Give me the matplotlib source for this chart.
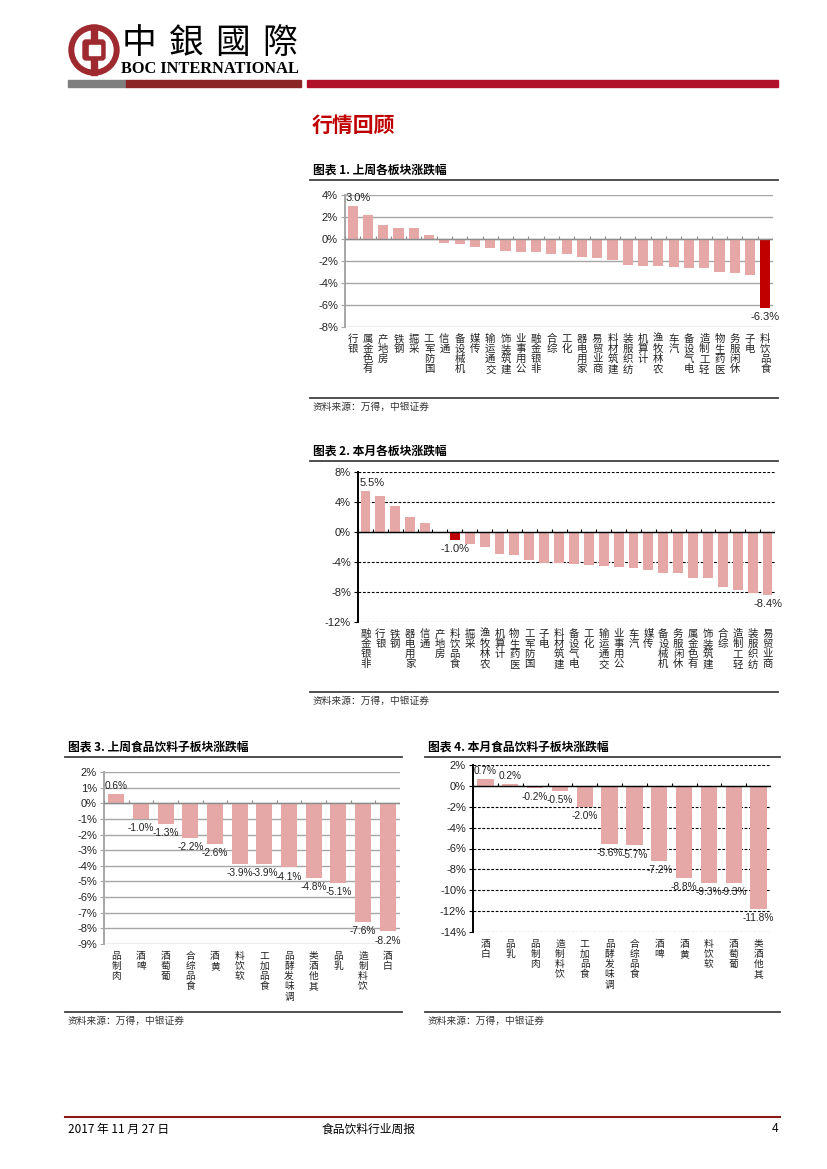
import numpy as np
import matplotlib.pyplot as plt
from matplotlib.patches import Circle, Rectangle, FancyBboxPatch

W, H = 827, 1169
CJK = ['Noto Sans CJK SC', 'DejaVu Sans']
NUM = ['Liberation Sans', 'Noto Sans CJK SC', 'DejaVu Sans']
PINK = '#E6A7A7'
RED = '#C00000'

# chart 1: last week, sectors
week_names = ['银行', '有色金属', '房地产', '钢铁', '采掘', '国防军工', '通信', '机械设备',
              '传媒', '交通运输', '建筑装饰', '公用事业', '非银金融', '综合', '化工', '家用电器',
              '商业贸易', '建筑材料', '纺织服装', '计算机', '农林牧渔', '汽车', '电气设备',
              '轻工制造', '医药生物', '休闲服务', '电子', '食品饮料']
week_vals = [3.0, 2.2, 1.3, 1.0, 1.0, 0.4, -0.4, -0.5, -0.7, -0.85, -1.1, -1.15, -1.2, -1.35,
             -1.4, -1.65, -1.7, -1.95, -2.4, -2.45, -2.5, -2.55, -2.6, -2.6, -3.0, -3.05, -3.25, -6.3]

# chart 2: this month, sectors
month_names = ['非银金融', '银行', '钢铁', '家用电器', '通信', '房地产', '食品饮料', '采掘',
               '农林牧渔', '计算机', '医药生物', '国防军工', '电子', '建筑材料', '电气设备', '化工',
               '交通运输', '公用事业', '汽车', '传媒', '机械设备', '休闲服务', '有色金属',
               '建筑装饰', '综合', '轻工制造', '纺织服装', '商业贸易']
month_vals = [5.5, 4.8, 3.5, 2.0, 1.2, -0.1, -1.0, -1.6, -2.0, -2.9, -3.0, -3.75, -4.1, -4.1,
              -4.2, -4.4, -4.5, -4.6, -4.85, -5.1, -5.4, -5.5, -6.1, -6.1, -7.3, -7.7, -8.1, -8.4]

# chart 3: last week, food & beverage sub-sectors
fb_week_names = ['肉制品', '啤酒', '葡萄酒', '食品综合', '黄酒', '软饮料', '食品加工',
                 '调味发酵品', '其他酒类', '乳品', '饮料制造', '白酒']
fb_week_vals = [0.6, -1.0, -1.3, -2.2, -2.6, -3.9, -3.9, -4.1, -4.8, -5.1, -7.6, -8.2]

# chart 4: this month, food & beverage sub-sectors
fb_month_names = ['白酒', '乳品', '肉制品', '饮料制造', '食品加工', '调味发酵品', '食品综合',
                  '啤酒', '黄酒', '软饮料', '葡萄酒', '其他酒类']
fb_month_vals = [0.7, 0.2, -0.2, -0.5, -2.0, -5.6, -5.7, -7.2, -8.8, -9.3, -9.3, -11.8]

fig = plt.figure(figsize=(8.27, 11.69), dpi=100)
page = fig.add_axes([0, 0, 1, 1])
page.set_xlim(0, W)
page.set_ylim(H, 0)
page.axis('off')


def axes_px(x0, y0, x1, y1):
    return fig.add_axes([x0 / W, 1 - y1 / H, (x1 - x0) / W, (y1 - y0) / H])


def bar_chart(box, names, vals, ylim, step, dashed, highlight, labels,
              lab_size=7.5, val_size=8, first_dx=0):
    ax = axes_px(*box)
    x = np.arange(len(vals))
    colors = [RED if n == highlight else PINK for n in names]
    ax.bar(x, vals, width=0.66, color=colors, zorder=3)
    ax.set_xlim(-0.5, len(vals) - 0.5)
    ax.set_ylim(*ylim)
    ticks = np.arange(ylim[0], ylim[1] + step / 2, step)
    ax.set_yticks(ticks)
    ax.set_yticklabels([f'{t:.0f}%' for t in ticks], family=NUM, fontsize=8, color='#222222')
    if dashed:
        gc, gls, lw, sc = 'black', (0, (2.5, 1.5)), 0.8, 'black'
    else:
        gc, gls, lw, sc = '#A6A6A6', '-', 1.0, '#A6A6A6'
    ax.yaxis.grid(True, color=gc, ls=gls, lw=lw, zorder=1)
    for s in ['top', 'right', 'bottom']:
        ax.spines[s].set_visible(False)
    ax.spines['left'].set_color(sc)
    ax.spines['left'].set_linewidth(1.4)
    ax.tick_params(axis='y', length=3, color=sc, pad=2)
    zc = 'black' if dashed else '#8C8C8C'
    ax.axhline(0, color=zc, lw=1.0, zorder=4)
    tk = (ylim[1] - ylim[0]) * 0.02
    ax.vlines(np.arange(len(vals) + 1) - 0.5, 0, tk, color=zc, lw=0.8, zorder=4)
    ax.set_xticks(x)
    ax.set_xticklabels(['\n'.join(reversed(n)) for n in names], family=CJK, fontsize=lab_size,
                       va='top', linespacing=1.02, color='#222222')
    ax.tick_params(axis='x', length=0, pad=5)
    for i in labels:
        v = vals[i]
        dx = first_dx if i == 0 else 0
        ax.annotate(f'{v:.1f}%', (x[i], v), xytext=(dx, 2 if v >= 0 else -3),
                    textcoords='offset points', ha='center',
                    va='bottom' if v >= 0 else 'top', family=NUM, fontsize=val_size,
                    color='#222222', zorder=5)
    return ax


def block_header(x0, x1, y, title):
    page.text(x0 + 3, y - 3, title, family=CJK, fontsize=8.5, fontweight='bold', va='bottom')
    page.plot([x0, x1], [y, y], color='#404040', lw=1.3)


def block_footer(x0, x1, y):
    page.plot([x0, x1], [y, y], color='#404040', lw=1.3)
    page.text(x0 + 3, y + 4, '资料来源：万得，中银证券', family=CJK, fontsize=7,
              va='top', color='#333333')


# header logo
page.add_patch(Circle((94, 50), 25, color='#9E2A2F'))
page.add_patch(Circle((94, 50), 19, color='white'))
page.add_patch(Rectangle((91, 25), 6, 50, color='#9E2A2F'))
page.add_patch(FancyBboxPatch((83, 40), 22, 20, boxstyle='round,pad=0,rounding_size=3',
                              color='#9E2A2F'))
page.add_patch(Rectangle((88.5, 45), 11, 10, color='white'))
for i, ch in enumerate('中銀國際'):
    page.text(139 + i * 47, 44, ch, family=CJK, fontsize=25, ha='center', va='center')
page.text(121, 69, 'BOC INTERNATIONAL', family=['Liberation Serif'], fontsize=11.8,
          fontweight='bold', va='center')
page.add_patch(Rectangle((68, 80), 58, 7, color='#7F7F7F'))
page.add_patch(Rectangle((126, 80), 175, 7, color='#8B2525'))
page.add_patch(Rectangle((307, 80), 471, 7, color='#B0102A'))

page.text(312, 125, '行情回顾', family=CJK, fontsize=15, fontweight='bold', color=RED,
          va='center')

# chart 1
block_header(310, 778, 180, '图表 1. 上周各板块涨跌幅')
bar_chart((345, 195, 773, 327), week_names, week_vals, (-8, 4), 2, False, '食品饮料',
          [0, len(week_vals) - 1], first_dx=4)
block_footer(310, 778, 398)

# chart 2
block_header(310, 778, 461, '图表 2. 本月各板块涨跌幅')
bar_chart((358, 472, 775, 622), month_names, month_vals, (-12, 8), 4, True, '食品饮料',
          [0, 6, len(month_vals) - 1], first_dx=5)
block_footer(310, 778, 692)

# chart 3
block_header(65, 402, 757, '图表 3. 上周食品饮料子板块涨跌幅')
bar_chart((104, 772, 400, 944), fb_week_names, fb_week_vals, (-9, 2), 1, False, None,
          range(len(fb_week_vals)), lab_size=7, val_size=7.3)
block_footer(65, 402, 1012)

# chart 4
block_header(425, 780, 757, '图表 4. 本月食品饮料子板块涨跌幅')
bar_chart((473, 765, 771, 932), fb_month_names, fb_month_vals, (-14, 2), 2, True, None,
          range(len(fb_month_vals)), lab_size=7, val_size=7.3)
block_footer(425, 780, 1012)

# page footer
page.plot([65, 780], [1117, 1117], color='#8B1A1A', lw=1.5)
page.text(68, 1129, '2017 年 11 月 27 日', family=CJK, fontsize=8.5, va='center')
page.text(369, 1129, '食品饮料行业周报', family=CJK, fontsize=8.5, va='center', ha='center')
page.text(778, 1129, '4', family=NUM, fontsize=8.5, va='center', ha='right')

fig.savefig('out.png', dpi=100)
